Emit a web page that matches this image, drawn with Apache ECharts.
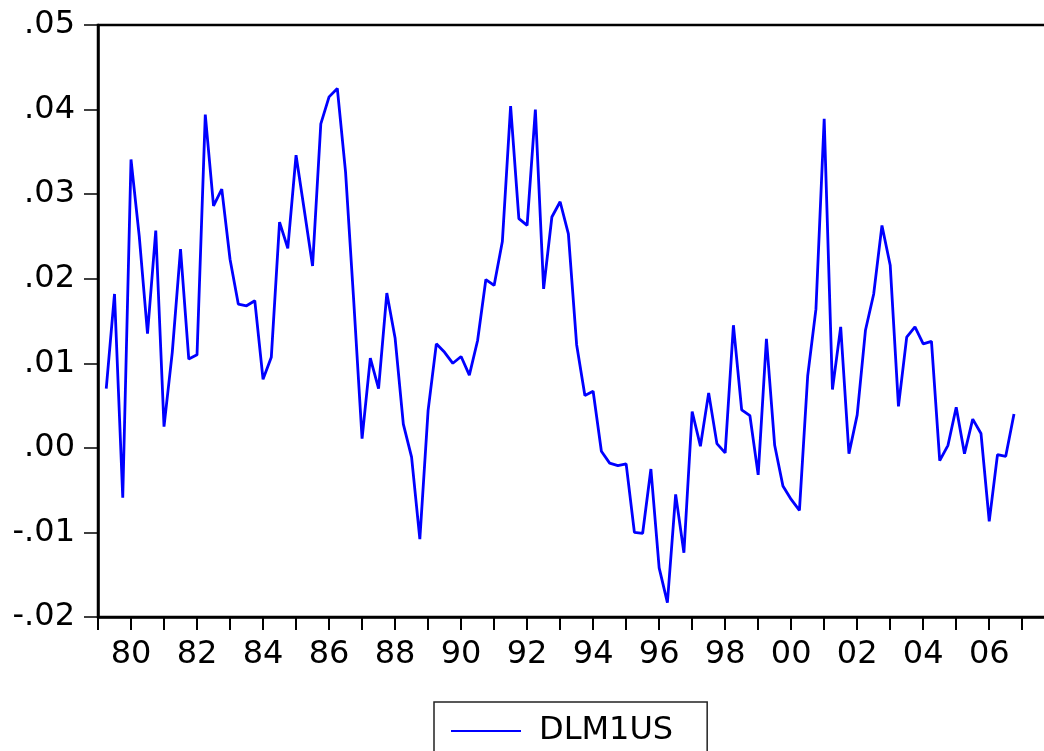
<!DOCTYPE html>
<html>
<head>
<meta charset="utf-8">
<script src="https://cdn.jsdelivr.net/npm/echarts@6/dist/echarts.min.js"></script>
<style>
  html, body { margin: 0; padding: 0; background: #fff; }
  #chart { width: 1044px; height: 751px; }
</style>
</head>
<body>
<div id="chart"></div>
<script>
// Quarterly axis span and first observation of the series
const axisStartYear = 1979;
const axisEndYear = 2007;
const quarterNames = ['Q1', 'Q2', 'Q3', 'Q4'];
const seriesStart = '1979Q2';
const seriesName = 'DLM1US';

// DLM1US, quarterly, 1979Q2 - 2006Q4
const dlm1us = [
  0.0070, 0.0182, -0.0059, 0.0341, 0.0250, 0.0135, 0.0257, 0.0025,
  0.0113, 0.0235, 0.0105, 0.0110, 0.0394, 0.0286, 0.0306, 0.0223,
  0.0170, 0.0168, 0.0174, 0.0081, 0.0107, 0.0267, 0.0236, 0.0346,
  0.0281, 0.0215, 0.0383, 0.0415, 0.0425, 0.0326, 0.0172, 0.0011,
  0.0106, 0.0070, 0.0183, 0.0130, 0.0028, -0.0011, -0.0108, 0.0044,
  0.0123, 0.0113, 0.0100, 0.0108, 0.0086, 0.0127, 0.0199, 0.0192,
  0.0244, 0.0404, 0.0271, 0.0263, 0.0400, 0.0188, 0.0273, 0.0291,
  0.0253, 0.0122, 0.0062, 0.0067, -0.0004, -0.0018, -0.0021, -0.0019,
  -0.0100, -0.0101, -0.0025, -0.0142, -0.0183, -0.0055, -0.0124, 0.0043,
  0.0002, 0.0065, 0.0005, -0.0006, 0.0145, 0.0045, 0.0038, -0.0032,
  0.0129, 0.0003, -0.0045, -0.0061, -0.0074, 0.0085, 0.0164, 0.0389,
  0.0069, 0.0143, -0.0007, 0.0039, 0.0139, 0.0182, 0.0263, 0.0216,
  0.0049, 0.0131, 0.0143, 0.0123, 0.0126, -0.0015, 0.0003, 0.0048,
  -0.0007, 0.0034, 0.0017, -0.0087, -0.0008, -0.0010, 0.0040
];

// Vertical axis ticks and their printed labels
const yMin = -0.02;
const yMax = 0.05;
const yStep = 0.01;
const yTickLabels = ['-.02', '-.01', '.00', '.01', '.02', '.03', '.04', '.05'];

// Quarter categories for the whole horizontal axis
const categories = [];
for (let y = axisStartYear; y <= axisEndYear; y++) {
  quarterNames.forEach(q => categories.push(y + q));
}
const firstIdx = categories.indexOf(seriesStart);
const seriesData = dlm1us.map((v, i) => [categories[firstIdx + i], v]);

const FONT = 'DejaVu Sans';
const chart = echarts.init(document.getElementById('chart'), null, { renderer: 'canvas' });

chart.setOption({
  animation: false,
  backgroundColor: '#ffffff',
  grid: {
    left: 98,
    right: -3,
    top: 25,
    bottom: 134,
    show: true,
    borderColor: '#000',
    borderWidth: 2.5,
    containLabel: false,
    outerBoundsMode: 'none'
  },
  legend: {
    data: [seriesName],
    left: 434,
    top: 702,
    orient: 'horizontal',
    icon: 'rect',
    itemWidth: 70,
    itemHeight: 2,
    padding: [13, 34, 30, 17],
    borderColor: '#222',
    borderWidth: 1.5,
    textStyle: {
      fontFamily: FONT,
      fontSize: 32,
      color: '#000',
      padding: [0, 0, 0, 13]
    }
  },
  xAxis: {
    type: 'category',
    data: categories,
    boundaryGap: false,
    axisLine: { show: true, onZero: false, lineStyle: { color: '#000', width: 2.5 } },
    axisTick: {
      show: true,
      inside: false,
      length: 13,
      interval: (i) => i % 4 === 0,
      lineStyle: { color: '#000', width: 2 }
    },
    axisLabel: {
      show: true,
      interval: (i) => i % 8 === 4,
      formatter: (v) => v.slice(2, 4),
      margin: 22,
      fontFamily: FONT,
      fontSize: 32,
      color: '#000'
    },
    splitLine: { show: false }
  },
  yAxis: {
    type: 'value',
    min: yMin,
    max: yMax,
    interval: yStep,
    axisLine: { show: true, lineStyle: { color: '#000', width: 2.5 } },
    axisTick: { show: true, inside: false, length: 14, lineStyle: { color: '#000', width: 1.5 } },
    axisLabel: {
      formatter: (v) => yTickLabels[Math.round((v - yMin) / yStep)],
      margin: 23,
      fontFamily: FONT,
      fontSize: 32,
      color: '#000'
    },
    splitLine: { show: false }
  },
  series: [{
    name: seriesName,
    type: 'line',
    data: seriesData,
    symbol: 'none',
    showSymbol: false,
    color: '#0000ff',
    lineStyle: { color: '#0000ff', width: 2.8 }
  }]
});
</script>
</body>
</html>
